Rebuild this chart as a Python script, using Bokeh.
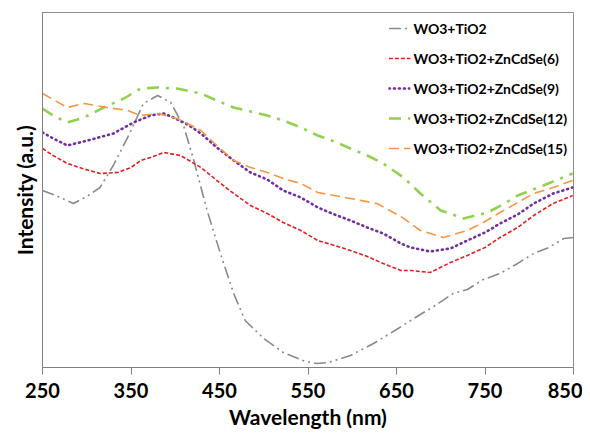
from bokeh.plotting import figure
from bokeh.models import Legend, LegendItem, FixedTicker
from bokeh.embed import file_html
from bokeh.resources import INLINE

# ---- data ----
wl_gray = [250, 265, 285, 300, 315, 330, 349, 364, 380, 395, 410, 421, 436, 451, 466, 479, 500, 522, 547, 560, 573, 598, 624, 650, 675, 692, 714, 730, 748, 767, 785, 805, 822, 839, 850]
v_gray = [177, 172, 164, 171, 180, 202, 235, 264, 272, 265, 240, 207, 157, 114, 74, 47, 29, 15, 6, 4, 5, 12, 24, 38, 52, 61, 74, 78, 88, 94, 103, 114, 120, 129, 130]

wl_red = [250, 262, 278, 295, 315, 335, 350, 361, 375, 387, 406, 429, 447, 466, 485, 504, 522, 542, 561, 580, 598, 617, 635, 655, 666, 688, 711, 730, 750, 767, 787, 805, 827, 849]
v_red = [219, 212, 204, 199, 194, 195, 200, 207, 211, 215, 212, 200, 187, 174, 162, 154, 145, 137, 127, 122, 117, 111, 104, 97, 97, 95, 105, 112, 120, 130, 140, 152, 164, 172]

wl_purple = [250, 262, 278, 301, 330, 353, 372, 387, 398, 414, 429, 447, 466, 485, 504, 522, 542, 561, 580, 598, 617, 635, 655, 666, 688, 711, 730, 750, 767, 787, 805, 827, 849]
v_purple = [235, 229, 222, 227, 234, 245, 252, 254, 250, 243, 234, 220, 207, 195, 188, 177, 170, 160, 153, 147, 140, 134, 124, 120, 116, 119, 127, 135, 144, 153, 164, 174, 180]

wl_green = [250, 262, 278, 297, 319, 342, 361, 380, 402, 429, 447, 466, 485, 504, 522, 542, 561, 580, 598, 617, 635, 658, 677, 700, 726, 753, 770, 787, 816, 849]
v_green = [259, 252, 245, 250, 260, 269, 279, 280, 279, 274, 267, 260, 256, 252, 247, 240, 232, 226, 219, 212, 204, 190, 174, 157, 149, 155, 163, 172, 182, 194]

wl_orange = [250, 262, 278, 297, 323, 346, 361, 380, 402, 414, 429, 447, 466, 485, 504, 522, 542, 561, 580, 598, 628, 655, 677, 703, 730, 750, 767, 787, 805, 827, 849]
v_orange = [274, 268, 260, 264, 260, 257, 252, 254, 249, 244, 237, 222, 207, 200, 195, 189, 184, 175, 172, 169, 164, 151, 137, 130, 137, 146, 155, 165, 174, 180, 187]

labels = ["WO3+TiO2", "WO3+TiO2+ZnCdSe(6)", "WO3+TiO2+ZnCdSe(9)",
          "WO3+TiO2+ZnCdSe(12)", "WO3+TiO2+ZnCdSe(15)"]
x_ticks = [250, 350, 450, 550, 650, 750, 850]

FONT = "Lato"

p = figure(width=582, height=435, x_range=(250, 850), y_range=(0, 355),
           output_backend="svg", toolbar_location=None,
           min_border_left=42, min_border_right=9, min_border_top=12, min_border_bottom=68)
p.background_fill_color = "white"
p.border_fill_color = "white"
p.outline_line_color = "#8c8c8c"
p.outline_line_width = 1
p.grid.visible = False

r_gray = p.line(wl_gray, v_gray, line_color="#8a8a8a", line_width=1.6, line_dash="12 4 2 4 2 4")
r_red = p.line(wl_red, v_red, line_color="#e02020", line_width=1.6, line_dash="4 2")
r_purple = p.line(wl_purple, v_purple, line_color="#7030a0", line_width=2.6, line_dash="1 4", line_cap="round")
r_green = p.line(wl_green, v_green, line_color="#92d050", line_width=2.6, line_dash="12 7 3 7")
r_orange = p.line(wl_orange, v_orange, line_color="#f79646", line_width=1.6, line_dash="10 5")

# x axis
xa = p.xaxis[0]
xa.ticker = FixedTicker(ticks=x_ticks)
xa.axis_line_color = "#808080"
xa.major_tick_line_color = "#808080"
xa.major_tick_out = 7
xa.major_tick_in = 0
xa.minor_tick_line_color = None
xa.major_label_text_font = FONT
xa.major_label_text_font_style = "bold"
xa.major_label_text_font_size = "20px"
xa.major_label_text_color = "black"
xa.major_label_standoff = 8
xa.axis_label = "Wavelength (nm)"
xa.axis_label_text_font = FONT
xa.axis_label_text_font_style = "bold"
xa.axis_label_text_font_size = "21px"
xa.axis_label_text_color = "black"
xa.axis_label_standoff = 3

# y axis
ya = p.yaxis[0]
ya.axis_line_color = "#808080"
ya.major_tick_line_color = None
ya.minor_tick_line_color = None
ya.major_label_text_font_size = "0px"
ya.major_label_text_alpha = 0
ya.axis_label = "Intensity (a.u.)"
ya.axis_label_text_font = FONT
ya.axis_label_text_font_style = "bold"
ya.axis_label_text_font_size = "21px"
ya.axis_label_text_color = "black"
ya.axis_label_standoff = 0

legend = Legend(items=[
    LegendItem(label=labels[0], renderers=[r_gray]),
    LegendItem(label=labels[1], renderers=[r_red]),
    LegendItem(label=labels[2], renderers=[r_purple]),
    LegendItem(label=labels[3], renderers=[r_green]),
    LegendItem(label=labels[4], renderers=[r_orange]),
], location="top_right")
legend.border_line_alpha = 0
legend.background_fill_alpha = 0
legend.label_text_font = FONT
legend.label_text_font_style = "bold"
legend.label_text_font_size = "14px"
legend.label_text_color = "black"
legend.glyph_width = 22
legend.glyph_height = 20
legend.label_height = 20
legend.spacing = 10
legend.padding = 0
legend.margin = 6
legend.label_standoff = 3
p.add_layout(legend)

open("out.html", "w").write(file_html(p, INLINE))
